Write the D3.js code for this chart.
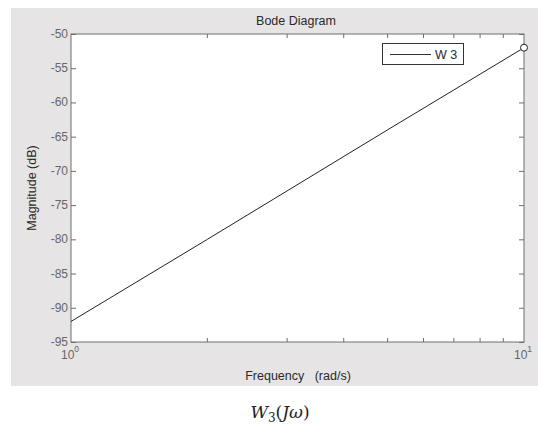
<!DOCTYPE html>
<html>
<head>
<meta charset="utf-8">
<script src="https://cdn.jsdelivr.net/npm/d3@7"></script>
<style>
  body { margin: 0; background: #fff; }
  svg { display: block; font-family: "Liberation Sans", Arial, sans-serif; }
</style>
</head>
<body>
<svg id="bode" width="538" height="428"></svg>
<script>
// data
const freq = [1, 2, 5, 10];
const magDb = [-92, -80, -64, -52];
const yTicks = [-50, -55, -60, -65, -70, -75, -80, -85, -90, -95];
const xMinorTicks = [2, 3, 4, 5, 6, 7, 8, 9];
const xLabels = [{ v: 1, exp: "0" }, { v: 10, exp: "1" }];
const seriesName = "W 3";

const svg = d3.select("#bode");

// grey figure background
svg.append("rect")
  .attr("x", 11).attr("y", 8)
  .attr("width", 527).attr("height", 378)
  .attr("fill", "#e6e4e4");

const pLeft = 71, pRight = 524, pTop = 34, pBottom = 342;

const x = d3.scaleLog().domain([1, 10]).range([pLeft, pRight]);
const y = d3.scaleLinear().domain([-95, -50]).range([pBottom, pTop]);

// plot area
svg.append("rect")
  .attr("x", pLeft).attr("y", pTop)
  .attr("width", pRight - pLeft).attr("height", pBottom - pTop)
  .attr("fill", "#fff")
  .attr("stroke", "#6e6e6e")
  .attr("stroke-width", 1);

const ticks = svg.append("g").attr("stroke", "#6e6e6e").attr("stroke-width", 1);

// y ticks inside on both sides
ticks.selectAll("line.yl")
  .data(yTicks)
  .join("line")
  .attr("class", "yl")
  .attr("x1", pLeft).attr("x2", pLeft + 5)
  .attr("y1", d => y(d) + 0.5).attr("y2", d => y(d) + 0.5);
ticks.selectAll("line.yr")
  .data(yTicks)
  .join("line")
  .attr("class", "yr")
  .attr("x1", pRight - 5).attr("x2", pRight)
  .attr("y1", d => y(d) + 0.5).attr("y2", d => y(d) + 0.5);

// x minor log ticks top and bottom
ticks.selectAll("line.xb")
  .data(xMinorTicks)
  .join("line")
  .attr("class", "xb")
  .attr("x1", d => x(d)).attr("x2", d => x(d))
  .attr("y1", pBottom).attr("y2", pBottom - 4);
ticks.selectAll("line.xt")
  .data(xMinorTicks)
  .join("line")
  .attr("class", "xt")
  .attr("x1", d => x(d)).attr("x2", d => x(d))
  .attr("y1", pTop).attr("y2", pTop + 4);

// y tick labels
svg.append("g").selectAll("text")
  .data(yTicks)
  .join("text")
  .attr("x", pLeft - 3)
  .attr("y", d => y(d) + 4)
  .attr("text-anchor", "end")
  .attr("font-size", 12)
  .attr("fill", "#666")
  .text(d => d);

// x tick labels with exponent
const xl = svg.append("g").selectAll("text")
  .data(xLabels)
  .join("text")
  .attr("x", d => x(d.v) - 1)
  .attr("y", 359)
  .attr("text-anchor", "middle")
  .attr("font-size", 12)
  .attr("fill", "#666");
xl.append("tspan").text("10");
xl.append("tspan").attr("dy", -7).attr("font-size", 8.5).text(d => d.exp);

// titles
svg.append("text")
  .attr("x", 296).attr("y", 25)
  .attr("text-anchor", "middle")
  .attr("font-size", 12.5)
  .attr("fill", "#2a2a2a")
  .text("Bode Diagram");

svg.append("text")
  .attr("x", 298).attr("y", 380)
  .attr("text-anchor", "middle")
  .attr("font-size", 12.5)
  .attr("fill", "#2a2a2a")
  .attr("xml:space", "preserve")
  .text("Frequency   (rad/s)");

svg.append("text")
  .attr("transform", `translate(36, ${(pTop + pBottom) / 2}) rotate(-90)`)
  .attr("text-anchor", "middle")
  .attr("font-size", 12.5)
  .attr("fill", "#2a2a2a")
  .text("Magnitude (dB)");

// magnitude line
const line = d3.line()
  .x((d, i) => x(freq[i]))
  .y(d => y(d));

svg.append("path")
  .datum(magDb)
  .attr("d", line)
  .attr("fill", "none")
  .attr("stroke", "#222")
  .attr("stroke-width", 1);

// open circle at the end point
svg.append("circle")
  .attr("cx", x(freq[freq.length - 1]))
  .attr("cy", y(magDb[magDb.length - 1]))
  .attr("r", 3.5)
  .attr("fill", "#fff")
  .attr("stroke", "#222")
  .attr("stroke-width", 1);

// legend
const legend = svg.append("g");
legend.append("rect")
  .attr("x", 382.5).attr("y", 43.5)
  .attr("width", 81).attr("height", 21)
  .attr("fill", "#fff")
  .attr("stroke", "#333");
legend.append("line")
  .attr("x1", 390).attr("x2", 431)
  .attr("y1", 54.5).attr("y2", 54.5)
  .attr("stroke", "#333");
legend.append("text")
  .attr("x", 435).attr("y", 59)
  .attr("font-size", 12.5)
  .attr("fill", "#2a2a2a")
  .text(seriesName);

// caption under the figure
const cap = svg.append("text")
  .attr("x", 280).attr("y", 418)
  .attr("text-anchor", "middle")
  .attr("font-family", "'DejaVu Serif', serif")
  .attr("font-style", "italic")
  .attr("font-size", 17)
  .attr("fill", "#222");
cap.append("tspan").text("W");
cap.append("tspan").attr("dy", 4).attr("font-size", 12).attr("font-style", "normal").text("3");
cap.append("tspan").attr("dy", -4).attr("font-style", "normal").text("(");
cap.append("tspan").text("Jω");
cap.append("tspan").attr("font-style", "normal").text(")");
</script>
</body>
</html>
